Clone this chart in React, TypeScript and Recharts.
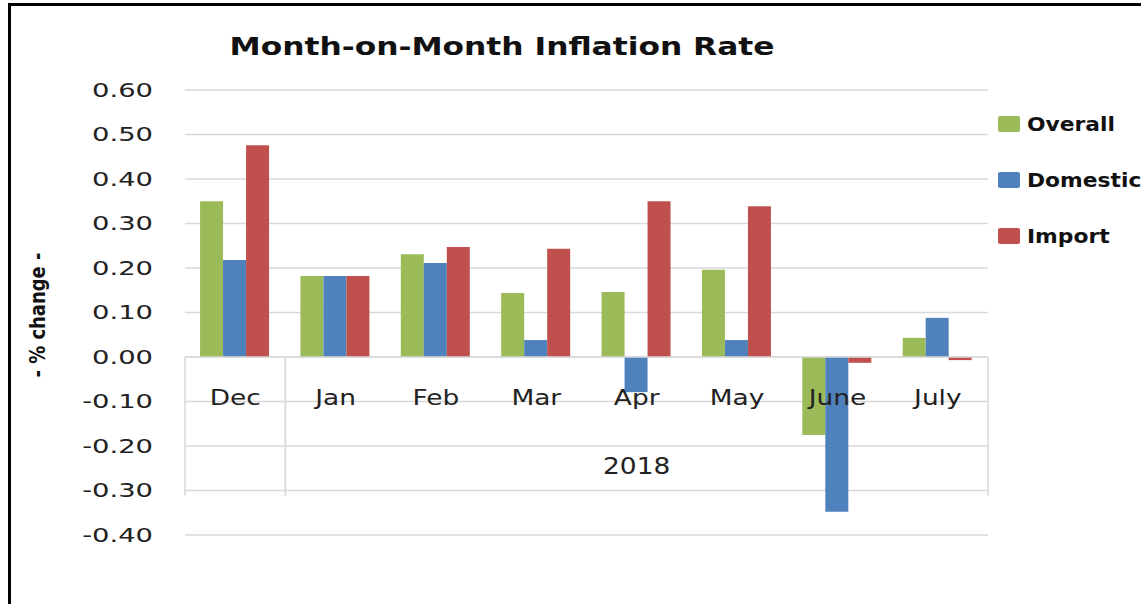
import { BarChart, Bar, XAxis, YAxis, CartesianGrid, Legend, ReferenceArea, ReferenceLine } from 'recharts';

// categories
const MONTHS = ['Dec', 'Jan', 'Feb', 'Mar', 'Apr', 'May', 'June', 'July'];

// % change, month on month
const OVERALL = [0.35, 0.182, 0.231, 0.144, 0.146, 0.196, -0.175, 0.043];
const DOMESTIC = [0.218, 0.182, 0.211, 0.038, -0.079, 0.038, -0.348, 0.088];
const IMPORT = [0.476, 0.182, 0.247, 0.243, 0.35, 0.339, -0.013, -0.007];

const Y_TICKS = [-0.4, -0.3, -0.2, -0.1, 0, 0.1, 0.2, 0.3, 0.4, 0.5, 0.6];

// year groups under the month labels
const YEAR_GROUPS = [
  { from: 'Dec', to: 'Dec', label: '' },
  { from: 'Jan', to: 'July', label: '2018' },
];

const SERIES = [
  { key: 'overall', name: 'Overall', color: '#9BBB59' },
  { key: 'domestic', name: 'Domestic', color: '#4F81BD' },
  { key: 'import', name: 'Import', color: '#C0504D' },
];

const data = MONTHS.map((m, i) => ({
  month: m,
  overall: OVERALL[i],
  domestic: DOMESTIC[i],
  import: IMPORT[i],
}));

const W = 1141;
const H = 604;
const PLOT_TOP = 90;
const PLOT_BOTTOM = 535;
const Y_MIN = -0.4;
const Y_MAX = 0.6;
const ZERO_Y = PLOT_TOP + ((PLOT_BOTTOM - PLOT_TOP) * Y_MAX) / (Y_MAX - Y_MIN);
const GRID = '#d9d9d9';
const TEXT = '#222';
const FONT = '"DejaVu Sans", Verdana, sans-serif';

const YTick = ({ y, payload }: any) => (
  <g transform={`translate(153,${y}) scale(1.37,1)`}>
    <text textAnchor="end" dominantBaseline="central" fontSize={20} fontFamily={FONT} fill={TEXT}>
      {payload.value.toFixed(2)}
    </text>
  </g>
);

const MonthTick = ({ x, payload }: any) => (
  <g transform={`translate(${x},${ZERO_Y + 40}) scale(1.2,1)`}>
    <text textAnchor="middle" dominantBaseline="central" fontSize={22} fontFamily={FONT} fill={TEXT}>
      {payload.value}
    </text>
  </g>
);

const groupShape = (label: string) => (p: any) => (
  <g>
    <line x1={p.x} x2={p.x} y1={p.y} y2={p.y + p.height} stroke={GRID} strokeWidth={1.5} />
    <line x1={p.x + p.width} x2={p.x + p.width} y1={p.y} y2={p.y + p.height} stroke={GRID} strokeWidth={1.5} />
    {label && (
      <g transform={`translate(${p.x + p.width / 2},${ZERO_Y + 109}) scale(1.15,1)`}>
        <text textAnchor="middle" dominantBaseline="central" fontSize={23} fontFamily={FONT} fill={TEXT}>
          {label}
        </text>
      </g>
    )}
  </g>
);

const LegendBox = () => (
  <div style={{ fontFamily: FONT }}>
    {SERIES.map((s) => (
      <div key={s.key} style={{ display: 'flex', alignItems: 'center', height: 56 }}>
        <span style={{ width: 22, height: 16, background: s.color, borderRadius: 2, marginRight: 7 }} />
        <span
          style={{
            fontSize: 20,
            fontWeight: 'bold',
            color: '#111',
            display: 'inline-block',
            transform: 'scaleX(1.09)',
            transformOrigin: 'left center',
            whiteSpace: 'nowrap',
          }}
        >
          {s.name}
        </span>
      </div>
    ))}
  </div>
);

export default function App() {
  return (
    <div style={{ position: 'absolute', left: 0, top: 0, width: W, height: H, background: '#fff', overflow: 'hidden' }}>
      <div
        style={{
          position: 'absolute',
          left: 8,
          top: 3,
          width: 1300,
          height: 800,
          borderLeft: '3px solid #000',
          borderTop: '3px solid #000',
        }}
      />
      <div style={{ position: 'absolute', left: 0, top: 0 }}>
        <BarChart
          width={W}
          height={H}
          data={data}
          margin={{ top: PLOT_TOP, right: 153, bottom: 0, left: 0 }}
          barCategoryGap="15%"
          barGap={0}
        >
          <CartesianGrid vertical={false} stroke={GRID} strokeWidth={1.5} />
          <YAxis
            width={185}
            domain={[Y_MIN, Y_MAX]}
            ticks={Y_TICKS}
            axisLine={false}
            tickLine={false}
            tick={YTick}
            interval={0}
          />
          <XAxis dataKey="month" height={H - PLOT_BOTTOM} axisLine={false} tickLine={false} tick={MonthTick} interval={0} />
          <ReferenceLine y={0} stroke={GRID} strokeWidth={1.5} />
          {YEAR_GROUPS.map((g) => (
            <ReferenceArea
              key={g.from}
              x1={g.from}
              x2={g.to}
              y1={0}
              y2={-0.312}
              fill="none"
              stroke="none"
              shape={groupShape(g.label)}
            />
          ))}
          {SERIES.map((s) => (
            <Bar key={s.key} dataKey={s.key} name={s.name} fill={s.color} isAnimationActive={false} />
          ))}
          <Legend
            layout="vertical"
            align="center"
            verticalAlign="middle"
            content={LegendBox}
            wrapperStyle={{ left: 998, top: 96, width: 143, right: 'auto', bottom: 'auto' }}
          />
        </BarChart>
      </div>
      <svg width={W} height={H} style={{ position: 'absolute', left: 0, top: 0, pointerEvents: 'none' }}>
        <text
          x={502}
          y={55}
          textAnchor="middle"
          fontSize={25}
          fontWeight="bold"
          fontFamily={FONT}
          fill="#111"
          textLength={545}
          lengthAdjust="spacingAndGlyphs"
        >
          Month-on-Month Inflation Rate
        </text>
        <text
          x={37}
          y={315}
          transform="rotate(-90,37,315)"
          textAnchor="middle"
          dominantBaseline="central"
          fontSize={22}
          fontWeight="bold"
          fontFamily='"DejaVu Sans Condensed", "Liberation Sans Narrow", sans-serif'
          fill="#111"
          textLength={125}
          lengthAdjust="spacingAndGlyphs"
        >
          - % change -
        </text>
      </svg>
    </div>
  );
}
